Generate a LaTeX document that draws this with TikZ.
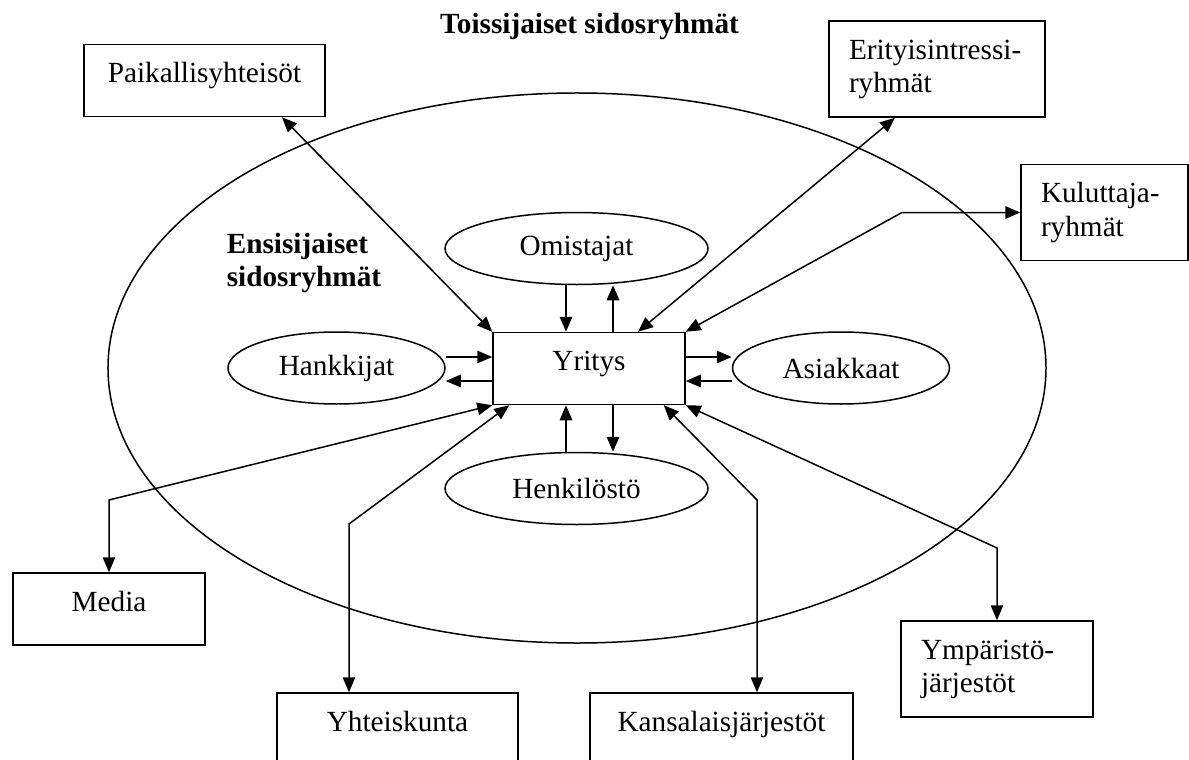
\documentclass[tikz,border=0pt]{standalone}
\usepackage{fontspec}
\setmainfont{Liberation Serif}
\usetikzlibrary{arrows.meta,calc,shapes.geometric}
\begin{document}
\begin{tikzpicture}[x=0.4pt,y=-0.4pt,line width=0.6pt,
		>={Triangle[length=6pt,width=5pt]},
		font=\fontsize{11.7pt}{13.4pt}\selectfont,
		title/.style={font=\fontsize{11.7pt}{13.4pt}\selectfont\bfseries,inner sep=0pt},
		grp/.style={draw,ellipse,inner sep=0pt,minimum height=28.8pt},
		sbox/.style={draw,inner xsep=8pt,inner ysep=0pt,text height=15.2pt,text depth=13.6pt,align=center},
		dbox/.style={draw,inner xsep=8pt,inner ysep=0pt,text height=15.2pt,text depth=23.2pt,align=left}]
	\useasboundingbox (0,0) rectangle (1189,760);
	\draw (577,368) ellipse [x radius=187.6pt,y radius=110pt];
	\node[title,anchor=base] (sec) at (589.5,33) {Toissijaiset sidosryhmät};
	\node[title,anchor=north west,align=left] (pri) at (226,232) {Ensisijaiset\\sidosryhmät};
	\node[sbox,text width=60.8pt] (yr) at (589,368.5) {Yritys};
	\node[grp,minimum width=105.2pt] (om) at (576.5,248.5) {Omistajat};
	\node[grp,minimum width=105.2pt] (hs) at (576.5,488.5) {Henkilöstö};
	\node[grp,minimum width=86.8pt] (hk) at (336.5,368) {Hankkijat};
	\node[grp,minimum width=86.8pt] (as) at (841,368) {Asiakkaat};
	\node[sbox,text width=80.4pt] (pk) at (204.5,80.5) {Paikallisyhteisöt};
	\node[dbox,text width=70.4pt] (ei) at (937,69) {Erityisintressi-\\ryhmät};
	\node[dbox,text width=50.8pt] (ku) at (1104.5,212.5) {Kuluttaja-\\ryhmät};
	\node[sbox,text width=60.8pt] (md) at (109,609) {Media};
	\node[sbox,text width=80.4pt] (yk) at (397.5,729) {Yhteiskunta};
	\node[sbox,text width=89.2pt] (kj) at (721.5,729) {Kansalaisjärjestöt};
	\node[dbox,text width=60.8pt] (ym) at (997,669) {Ympäristö-\\järjestöt};
	\draw[->] ([xshift=-9.2pt]yr.north |- om.south) -- ([xshift=-9.2pt]yr.north);
	\draw[->] ([xshift=9.6pt]yr.north) -- ([xshift=9.6pt]yr.north |- om.south);
	\draw[->] ([xshift=-9.2pt]yr.south |- hs.north) -- ([xshift=-9.2pt]yr.south);
	\draw[->] ([xshift=9.6pt]yr.south) -- ([xshift=9.6pt]yr.south |- hs.north);
	\draw[->] ([yshift=4.6pt]yr.west -| hk.east) -- ([yshift=4.6pt]yr.west);
	\draw[->] ([yshift=-5pt]yr.west) -- ([yshift=-5pt]yr.west -| hk.east);
	\draw[->] ([yshift=4.6pt]yr.east) -- ([yshift=4.6pt]yr.east -| as.west);
	\draw[->] ([yshift=-5pt]yr.east -| as.west) -- ([yshift=-5pt]yr.east);
	\coordinate (kub) at (902,212.5);
	\coordinate (mdb) at (109,500);
	\coordinate (ykb) at (349,524);
	\coordinate (kjb) at (757,500);
	\coordinate (ymb) at (997,548);
	\draw[<->] ($(pk.south)+(77.5,0)$) -- (yr.north west);
	\draw[<->] ($(ei.south)+(-42,0)$) -- ($(yr.north)+(49,0)$);
	\draw[<->] (ku.west) -- (kub) -- (yr.north east);
	\draw[<->] (md.north) -- (mdb) -- (yr.south west);
	\draw[<->] (ykb |- yk.north) -- (ykb) -- ($(yr.south west)+(17,0)$);
	\draw[<->] (kjb |- kj.north) -- (kjb) -- ($(yr.south east)+(-22,0)$);
	\draw[<->] (ym.north) -- (ymb) -- (yr.south east);
\end{tikzpicture}
\end{document}
